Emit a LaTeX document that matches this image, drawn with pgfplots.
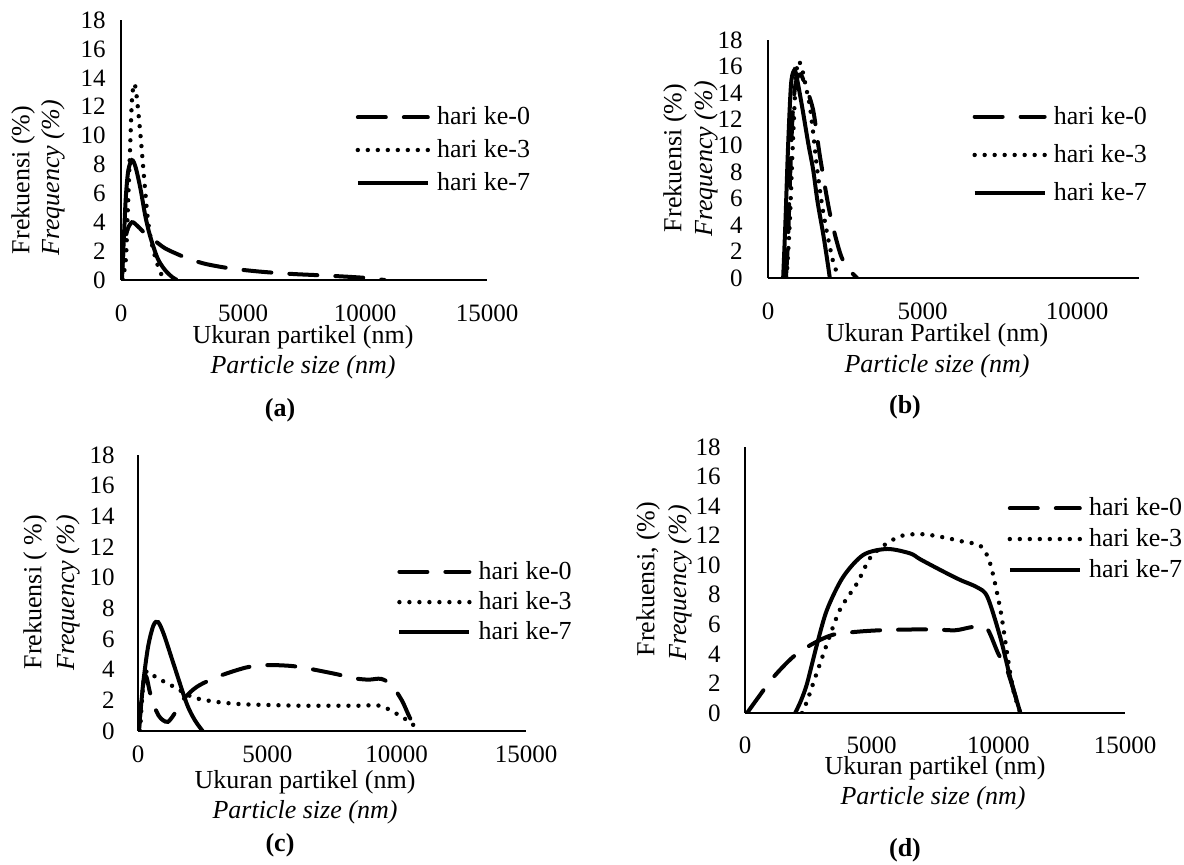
\documentclass[border=0pt]{standalone}
\usepackage{fontspec}
\setmainfont{Liberation Serif}
\usepackage{pgfplots}
\pgfplotsset{compat=1.18}

\newcommand\lf{\fontsize{13}{15.6}\selectfont}
\newcommand\tf{\fontsize{12.5}{15}\selectfont}

\pgfplotsset{
  psd/.style={
    scale only axis,
    axis x line*=bottom, axis y line*=left,
    axis line style={-, line width=0.6pt},
    every inner x axis line/.append style={-},
    every inner y axis line/.append style={-},
    every outer x axis line/.append style={-},
    every outer y axis line/.append style={-},
    major tick length=0pt,
    ymin=0, ymax=18, ytick={0,2,...,18},
    xmin=0, scaled x ticks=false,
    tick label style={font=\tf, inner sep=0pt},
    /pgf/number format/assume math mode=true,
    /pgf/number format/1000 sep={},
    legend style={draw=none, fill=none, inner sep=0pt, font=\lf,
      nodes={inner sep=1pt}, anchor=west,
      /tikz/every even column/.append style={column sep=1pt}},
    legend cell align=left,
    legend image code/.code={\draw[#1] (0pt,0pt) -- (35pt,0pt); \path (37.5pt,0pt);},
  },
  h0/.style={black, line width=2pt, dash pattern=on 14pt off 9pt, line cap=round},
  h3/.style={black, line width=2.2pt, dash pattern=on 0pt off 5pt, line cap=round},
  h7/.style={black, line width=2pt},
}

\begin{document}
\begin{tikzpicture}
\path[use as bounding box] (0,0) rectangle (592pt,-432pt);

% (a)
\begin{axis}[psd, at={(60.5pt,-140pt)}, anchor=south west,
  width=183pt, height=130pt, xmax=15000, xtick={0,5000,10000,15000},
  xticklabel style={yshift=-12.2pt}, yticklabel style={xshift=-7.5pt},
  legend style={at={(0.64,0.5)}, /tikz/row sep=3.8pt}]
\addplot[h0, smooth] coordinates {(20,0) (100,2.0) (250,3.4) (450,4.0) (700,3.7) (1000,3.2) (1400,2.7) (1800,2.2) (2300,1.8) (2800,1.45) (3500,1.1) (4500,0.8) (5700,0.58) (7000,0.42) (8500,0.3) (10000,0.15) (10800,0)};
\addlegendentry{hari ke-0}
\addplot[h3, smooth] coordinates {(80,0) (200,1.5) (250,3.5) (370,9.0) (450,12.5) (550,13.6) (650,12.6) (800,10.0) (950,7.0) (1100,4.2) (1250,2.6) (1450,1.3) (1650,0.4) (1800,0)};
\addlegendentry{hari ke-3}
\addplot[h7, smooth] coordinates {(40,0) (120,3.0) (200,5.8) (300,7.6) (450,8.3) (600,7.8) (800,6.3) (1000,4.4) (1200,3.0) (1500,1.5) (1800,0.7) (2100,0.2) (2300,0)};
\addlegendentry{hari ke-7}
\end{axis}

% (b)
\begin{axis}[psd, at={(384pt,-139pt)}, anchor=south west,
  width=185.5pt, height=119pt, xmax=12000, xtick={0,5000,10000},
  xticklabel style={yshift=-12.2pt}, yticklabel style={xshift=-12.5pt},
  legend style={at={(0.55,0.517)}, /tikz/row sep=6.6pt}]
\addplot[h0, smooth] coordinates {(580,0) (650,3) (720,8) (800,12.5) (900,14.8) (1050,15.4) (1200,14.6) (1460,12.7) (1680,9.2) (2000,4.9) (2330,1.9) (2560,0.8) (2880,0)};
\addlegendentry{hari ke-0}
\addplot[h3, smooth] coordinates {(600,0) (700,4) (800,10) (900,15) (980,16.4) (1100,15.8) (1250,14.2) (1360,12.9) (1470,10.8) (1580,8.4) (1750,5.5) (1910,3.4) (2100,1.3) (2250,0.3) (2350,0)};
\addlegendentry{hari ke-3}
\addplot[h7, smooth] coordinates {(490,0) (560,4) (650,10) (740,14.5) (820,15.6) (900,15.5) (1100,13.0) (1300,10.2) (1460,8.2) (1600,5.8) (1780,3.4) (1900,1.6) (2000,0)};
\addlegendentry{hari ke-7}
\end{axis}

% (c)
\begin{axis}[psd, at={(69pt,-365.5pt)}, anchor=south west,
  width=194pt, height=138pt, xmax=15000, xtick={0,5000,10000,15000},
  xticklabel style={yshift=-7.2pt}, yticklabel style={xshift=-11.5pt},
  legend style={at={(0.667,0.467)}, /tikz/row sep=2.6pt}]
\addplot[h0, smooth] coordinates {(40,0) (150,2.5) (300,3.6) (450,2.6) (580,1.8) (800,1.0) (970,0.7) (1160,0.6) (1400,1.1) (1620,1.8) (2000,2.5) (2390,3.0) (3170,3.6) (4200,4.15) (4970,4.3) (5870,4.25) (6500,4.1) (7700,3.7) (8300,3.45) (8900,3.35) (9400,3.4) (9800,3.0) (10200,2.0) (10500,0.9) (10800,0)};
\addlegendentry{hari ke-0}
\addplot[h3, smooth] coordinates {(80,0) (200,3.0) (340,3.9) (700,3.5) (1370,2.9) (2130,2.2) (3040,1.9) (4000,1.75) (5000,1.7) (6250,1.65) (7500,1.65) (8500,1.65) (9340,1.65) (9920,1.2) (10580,0.5) (10810,0)};
\addlegendentry{hari ke-3}
\addplot[h7, smooth] coordinates {(30,0) (200,3.1) (390,5.5) (600,6.9) (780,7.1) (1000,6.3) (1370,4.4) (1880,1.8) (2200,0.7) (2500,0)};
\addlegendentry{hari ke-7}
\end{axis}

% (d)
\begin{axis}[psd, at={(372.5pt,-356.5pt)}, anchor=south west,
  width=190pt, height=133pt, xmax=15000, xtick={0,5000,10000,15000},
  xticklabel style={yshift=-11.7pt}, yticklabel style={xshift=-12pt},
  legend style={at={(0.69,0.654)}, /tikz/row sep=2.8pt}]
\addplot[h0, smooth] coordinates {(80,0) (500,1.0) (1110,2.4) (1900,3.8) (2690,4.7) (3480,5.3) (4430,5.5) (5340,5.6) (6500,5.65) (7500,5.65) (8300,5.6) (8900,5.8) (9300,5.85) (9600,5.6) (10000,4.0) (10350,2.9) (10870,0)};
\addlegendentry{hari ke-0}
\addplot[h3, smooth] coordinates {(2250,0) (2450,0.8) (2690,2.0) (3240,4.7) (3750,7.0) (4430,8.8) (4940,10.5) (5530,11.4) (6200,12.0) (7000,12.1) (7800,11.9) (8600,11.6) (9300,11.3) (9680,10.1) (10080,7.0) (10350,4.0) (10590,1.55) (10870,0)};
\addlegendentry{hari ke-3}
\addplot[h7, smooth] coordinates {(1980,0) (2200,0.8) (2450,2.0) (2850,4.7) (3240,7.0) (3870,9.2) (4670,10.7) (5610,11.1) (6520,10.8) (6920,10.4) (7800,9.6) (8500,9.0) (9170,8.5) (9570,7.85) (10080,5.1) (10470,2.4) (10870,0)};
\addlegendentry{hari ke-7}
\end{axis}

% axis titles and captions
\begin{scope}[every node/.style={font=\lf, inner sep=0pt}]
\node[rotate=90] at (11.5pt,-90pt) {Frekuensi (\%)};
\node[rotate=90] at (26.5pt,-89pt) {\itshape Frequency (\%)};
\node at (151.5pt,-168.5pt) {Ukuran partikel (nm)};
\node at (151.5pt,-183.5pt) {\itshape Particle size (nm)};
\node at (140pt,-205pt) {\bfseries (a)};

\node[rotate=90] at (337.5pt,-79pt) {Frekuensi (\%)};
\node[rotate=90] at (353pt,-79.5pt) {\itshape Frequency (\%)};
\node at (468.5pt,-167.5pt) {Ukuran Partikel (nm)};
\node at (468.5pt,-183pt) {\itshape Particle size (nm)};
\node at (452.5pt,-203.5pt) {\bfseries (b)};

\node[rotate=90] at (17.5pt,-296pt) {Frekuensi ( \%)};
\node[rotate=90] at (34pt,-296.5pt) {\itshape Frequency (\%)};
\node at (152.5pt,-391pt) {Ukuran partikel (nm)};
\node at (152.5pt,-406pt) {\itshape Particle size (nm)};
\node at (140pt,-422.5pt) {\bfseries (c)};

\node[rotate=90] at (324pt,-289.5pt) {Frekuensi, (\%)};
\node[rotate=90] at (340pt,-291.5pt) {\itshape Frequency (\%)};
\node at (467.5pt,-384pt) {Ukuran partikel (nm)};
\node at (466.5pt,-399pt) {\itshape Particle size (nm)};
\node at (452.5pt,-425pt) {\bfseries (d)};
\end{scope}
\end{tikzpicture}
\end{document}
